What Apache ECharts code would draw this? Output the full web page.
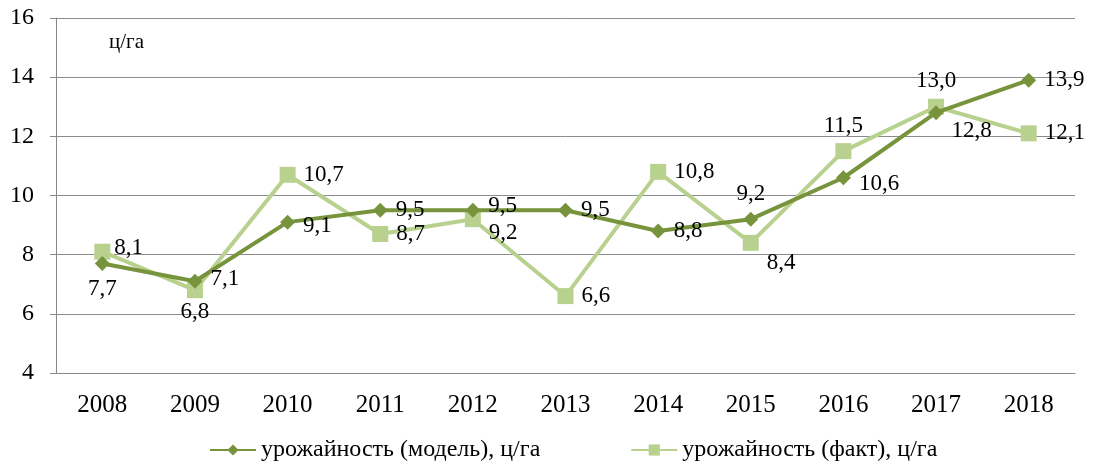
<!DOCTYPE html>
<html>
<head>
<meta charset="utf-8">
<script src="https://cdn.jsdelivr.net/npm/echarts@6/dist/echarts.min.js"></script>
<style>
  html, body { margin: 0; padding: 0; background: #fff; }
  #chart { width: 1097px; height: 465px; }
</style>
</head>
<body>
<div id="chart"></div>
<script>
const years = ['2008', '2009', '2010', '2011', '2012', '2013', '2014', '2015', '2016', '2017', '2018']
const modelYield = [7.7, 7.1, 9.1, 9.5, 9.5, 9.5, 8.8, 9.2, 10.6, 12.8, 13.9]
const factYield = [8.1, 6.8, 10.7, 8.7, 9.2, 6.6, 10.8, 8.4, 11.5, 13.0, 12.1]
const modelName = 'урожайность (модель), ц/га'
const factName = 'урожайность (факт), ц/га'

// label placement per point, [position, dx, dy]
const modelLabels = [['bottom', 0, -2], ['right', 0, -2], ['right', 0, 4], ['right', 0, 0], ['right', 0, -4], ['right', 0, 0],
  ['right', 0, 0], ['top', 0, 2], ['right', 0, 6], ['right', 0, 18], ['right', 0, 0]]
const factLabels = [['right', -4, -4], ['bottom', 0, -6], ['right', 0, 0], ['right', 0, 0], ['right', 0, 14], ['right', 0, 0],
  ['right', 0, 0], ['right', 0, 20], ['top', 0, 2], ['top', 0, 2], ['right', 0, 0]]

const font = '"Liberation Serif", "Times New Roman", serif'
const fmt = v => v.toFixed(1).replace('.', ',')

const build = (values, labels) => values.map((v, i) => ({
  value: v,
  label: { position: labels[i][0], offset: [labels[i][1], labels[i][2]] }
}))

const chart = echarts.init(document.getElementById('chart'))
chart.setOption({
  animation: false,
  textStyle: { fontFamily: font },
  grid: { left: 56, right: 22, top: 18, bottom: 92 },
  legend: {
    top: 433,
    left: 204,
    itemWidth: 46,
    itemHeight: 14,
    itemGap: 90,
    textStyle: { fontFamily: font, fontSize: 24, color: '#000' },
    data: [modelName, factName]
  },
  graphic: [{
    type: 'text',
    left: 109,
    top: 32,
    style: { text: 'ц/га', font: '21px ' + font, fill: '#000' }
  }],
  xAxis: {
    type: 'category',
    data: years,
    boundaryGap: true,
    axisLine: { lineStyle: { color: '#888', width: 1 } },
    axisTick: { show: false },
    axisLabel: { color: '#000', fontSize: 25, fontFamily: font, margin: 20 }
  },
  yAxis: {
    type: 'value',
    min: 4,
    max: 16,
    interval: 2,
    axisLine: { show: true, lineStyle: { color: '#888', width: 1 } },
    axisTick: { show: true, length: 6, lineStyle: { color: '#888' } },
    axisLabel: { color: '#000', fontSize: 24, fontFamily: font, margin: 22 },
    splitLine: { lineStyle: { color: '#8c8c8c', width: 1 } }
  },
  series: [{
    name: modelName,
    type: 'line',
    data: build(modelYield, modelLabels),
    symbol: 'diamond',
    symbolSize: 15,
    color: '#77933C',
    lineStyle: { width: 4 },
    label: { show: true, fontSize: 23, fontFamily: font, color: '#000', distance: 8, formatter: p => fmt(p.value) },
    z: 3
  }, {
    name: factName,
    type: 'line',
    data: build(factYield, factLabels),
    symbol: 'rect',
    symbolSize: 16,
    color: '#B9D18F',
    lineStyle: { width: 4 },
    label: { show: true, fontSize: 23, fontFamily: font, color: '#000', distance: 8, formatter: p => fmt(p.value) },
    z: 2
  }]
})
</script>
</body>
</html>
